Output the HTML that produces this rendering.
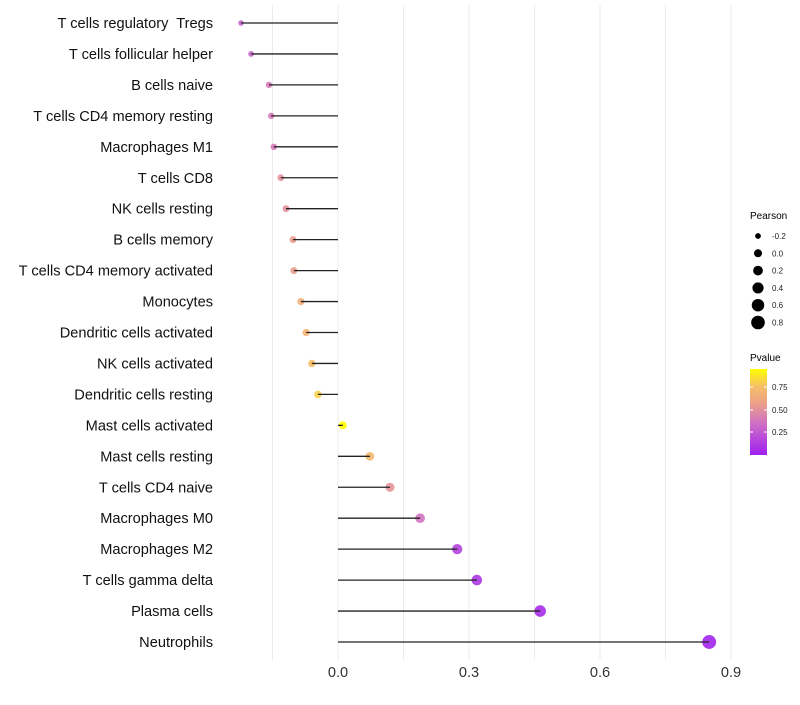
<!DOCTYPE html>
<html><head><meta charset="utf-8"><style>
body{margin:0;background:#fff;font-family:"Liberation Sans",sans-serif}
svg text{font-family:"Liberation Sans",sans-serif;white-space:pre}
</style></head><body>
<svg id="chart" width="800" height="700">
<defs><linearGradient id="pg" x1="0" y1="1" x2="0" y2="0">
<stop offset="0" stop-color="#a020f0"/><stop offset="0.35" stop-color="#cc6cc8"/><stop offset="0.6" stop-color="#eda08a"/><stop offset="0.8" stop-color="#f6bf66"/><stop offset="1" stop-color="#ffff00"/></linearGradient></defs>
<g id="grid"></g>
<g id="marks"></g>
<g id="labels"></g>
<g id="xt"></g>
<g id="lp">
<text x="750" y="219" font-size="10">Pearson</text>
</g>
<g>
<text x="750" y="361" font-size="10">Pvalue</text>
<rect x="750" y="369" width="17" height="86" fill="url(#pg)"/>
<g font-size="8" fill="#222">
<line x1="750" y1="387" x2="753" y2="387" stroke="#fff"/><line x1="764" y1="387" x2="767" y2="387" stroke="#fff"/>
<line x1="750" y1="410" x2="753" y2="410" stroke="#fff"/><line x1="764" y1="410" x2="767" y2="410" stroke="#fff"/>
<line x1="750" y1="432" x2="753" y2="432" stroke="#fff"/><line x1="764" y1="432" x2="767" y2="432" stroke="#fff"/>
<text x="772" y="390">0.75</text>
<text x="772" y="413">0.50</text>
<text x="772" y="435">0.25</text>
</g></g>
</svg>
<script>
const categories=["T cells regulatory  Tregs","T cells follicular helper","B cells naive","T cells CD4 memory resting","Macrophages M1","T cells CD8","NK cells resting","B cells memory","T cells CD4 memory activated","Monocytes","Dendritic cells activated","NK cells activated","Dendritic cells resting","Mast cells activated","Mast cells resting","T cells CD4 naive","Macrophages M0","Macrophages M2","T cells gamma delta","Plasma cells","Neutrophils"];
const pearson=[-0.222,-0.199,-0.158,-0.153,-0.147,-0.131,-0.119,-0.103,-0.101,-0.085,-0.073,-0.060,-0.046,0.011,0.073,0.119,0.188,0.273,0.318,0.463,0.850];
const pvalue=[0.3,0.32,0.4,0.4,0.4,0.5,0.5,0.56,0.56,0.66,0.7,0.76,0.82,0.96,0.72,0.52,0.36,0.15,0.1,0.05,0.02];
const xTicks=[0,0.3,0.6,0.9];
const legendVals=[-0.2,0,0.2,0.4,0.6,0.8];
const NS='http://www.w3.org/2000/svg';
const X=v=>338+v*436.67;
const Y=i=>23+i*30.95;
const R=v=>Math.sqrt(Math.max(3,16+38*v));
const stops=[[0,[160,32,240]],[0.35,[204,108,200]],[0.6,[237,160,138]],[0.8,[246,191,102]],[1,[255,255,0]]];
function col(p){p=Math.max(0,Math.min(1,p/0.955));for(let k=1;k<stops.length;k++){if(p<=stops[k][0]){const a=stops[k-1],b=stops[k],t=(p-a[0])/(b[0]-a[0]);return 'rgb('+a[1].map((c,j)=>Math.round(c+(b[1][j]-c)*t)).join(',')+')';}}return 'rgb(255,255,0)';}
function mk(tag,at,parent){const e=document.createElementNS(NS,tag);for(const k in at)e.setAttribute(k,at[k]);document.getElementById(parent).appendChild(e);return e;}
for(let v=-0.15;v<=0.91;v+=0.15){const l=mk('line',{x1:X(v),x2:X(v),y1:5,y2:660,stroke:'#ebebeb','stroke-width':1},'grid');

}
categories.forEach((c,i)=>{
const pt=mk('circle',{cx:X(pearson[i]),cy:Y(i),r:R(pearson[i]),fill:col(pvalue[i]),'fill-opacity':0.9},'marks');


const s=mk('line',{x1:X(0),x2:X(pearson[i]),y1:Y(i),y2:Y(i),stroke:'#222','stroke-width':1.3},'marks');


const t=mk('text',{x:213,y:Y(i)+5,'text-anchor':'end','font-size':14.6,fill:'#111'},'labels');
t.textContent=c;


});
xTicks.forEach(v=>{const t=mk('text',{x:X(v),y:677,'text-anchor':'middle','font-size':14.6,fill:'#333'},'xt');
t.textContent=v.toFixed(1);

});
legendVals.forEach((v,i)=>{const y=236+i*17.3;
const c=mk('circle',{cx:758,cy:y,r:R(v),fill:'#000'},'lp');


const t=mk('text',{x:772,y:y+3,'font-size':8,fill:'#222'},'lp');
t.textContent=v.toFixed(1);

});
</script>
</body></html>
